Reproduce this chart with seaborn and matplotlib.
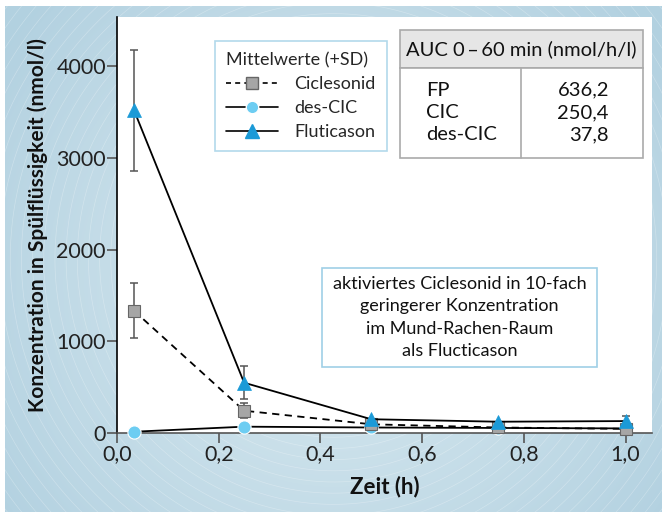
import numpy as np
import pandas as pd
import matplotlib
matplotlib.use("Agg")
import matplotlib.pyplot as plt
import seaborn as sns
from matplotlib.lines import Line2D
from matplotlib.patches import Rectangle
from matplotlib.ticker import FuncFormatter

# ---------------- data ----------------
time_h = [2 / 60, 0.25, 0.5, 0.75, 1.0]
ciclesonid = [1333, 243, 95, 60, 45]
ciclesonid_sd = [300, 82, 0, 0, 0]
des_cic = [14, 69, 60, 55, 50]
fluticason = [3520, 548, 150, 123, 130]
fluticason_sd = [660, 180, 0, 0, 55]

series_names = ["Ciclesonid", "des-CIC", "Fluticason"]
legend_title = "Mittelwerte (+SD)"
x_ticks = [0.0, 0.2, 0.4, 0.6, 0.8, 1.0]
y_ticks = [0, 1000, 2000, 3000, 4000]

auc_header = "AUC 0\u2009–\u200960 min (nmol/h/l)"
auc_labels = ["FP", "CIC", "des-CIC"]
auc_values = ["636,2", "250,4", "37,8"]

note_lines = ["aktiviertes Ciclesonid in 10-fach",
              "geringerer Konzentration",
              "im Mund-Rachen-Raum",
              "als Flucticason"]

# ---------------- style ----------------
sns.set_theme(style="white")
FONT = ["Lato", "DejaVu Sans"]
plt.rcParams["font.family"] = FONT

W, H = 662, 512
fig = plt.figure(figsize=(W / 100, H / 100), dpi=100, facecolor="white")


def fx(x):
    return x / W


def fy(y):
    return 1 - y / H


# background panel with radial gradient and faint arcs
bg = fig.add_axes([fx(5), 0, 1 - fx(5), fy(6)], zorder=0)
gx = np.linspace(0, 1, 300)
gy = np.linspace(0, 1, 300)
GX, GY = np.meshgrid(gx, gy)
r = np.sqrt(((GX - 0.5) * 1.0) ** 2 + ((GY - 0.45) * 0.77) ** 2)
c_center = np.array([0.835, 0.905, 0.935])
c_edge = np.array([0.70, 0.82, 0.88])
t = np.clip(r / 0.62, 0, 1)[..., None] ** 1.3
img = c_center * (1 - t) + c_edge * t
bg.imshow(img, extent=[0, 1, 0, 1], origin="lower", aspect="auto")
theta = np.linspace(0, 2 * np.pi, 500)
for rad in np.arange(0.05, 1.6, 0.017):
    bg.plot(0.5 + rad * np.cos(theta), 0.5 + rad * np.sin(theta) * 1.3,
            color="white", lw=0.5, alpha=0.28)
bg.set_xlim(0, 1)
bg.set_ylim(0, 1)
bg.axis("off")

# main axes
ax = fig.add_axes([fx(117), 1 - 433 / H, fx(652) - fx(117), (433 - 17) / H], zorder=2)
ax.set_facecolor("white")

c_cic = "#a6a6a6"
c_des = "#6dcdf2"
c_flu = "#1b9ad7"

df = pd.DataFrame({
    "Zeit": time_h * 3,
    "Konz": ciclesonid + des_cic + fluticason,
    "Serie": [series_names[0]] * 5 + [series_names[1]] * 5 + [series_names[2]] * 5,
})

# error bars
ax.errorbar(time_h, ciclesonid, yerr=ciclesonid_sd, fmt="none", ecolor="#555555",
            elinewidth=1.1, capsize=3.2, capthick=1.1, zorder=3)
ax.errorbar(time_h, fluticason, yerr=fluticason_sd, fmt="none", ecolor="#555555",
            elinewidth=1.1, capsize=3.2, capthick=1.1, zorder=3)

sns.lineplot(data=df[df.Serie == series_names[1]], x="Zeit", y="Konz", ax=ax,
             color="black", lw=1.3, marker="o", markersize=9.5,
             markerfacecolor=c_des, markeredgecolor="white", markeredgewidth=0.8,
             zorder=4, clip_on=False, legend=False)
sns.lineplot(data=df[df.Serie == series_names[0]], x="Zeit", y="Konz", ax=ax,
             color="black", lw=1.3, linestyle=(0, (4, 3)), marker="s", markersize=8.5,
             markerfacecolor=c_cic, markeredgecolor="#666666", markeredgewidth=0.8,
             zorder=5, clip_on=False, legend=False)
sns.lineplot(data=df[df.Serie == series_names[2]], x="Zeit", y="Konz", ax=ax,
             color="black", lw=1.3, marker="^", markersize=10.5,
             markerfacecolor=c_flu, markeredgecolor=c_flu, markeredgewidth=0.5,
             zorder=6, clip_on=False, legend=False)

ax.set_xlim(0, 1.052)
ax.set_ylim(0, 4535)
ax.set_xticks(x_ticks)
ax.set_yticks(y_ticks)
ax.xaxis.set_major_formatter(FuncFormatter(lambda v, p: f"{v:.1f}".replace(".", ",")))
ax.yaxis.set_major_formatter(FuncFormatter(lambda v, p: f"{int(v)}"))
ax.tick_params(axis="both", which="major", direction="out", length=7, width=1.2,
               color="#555555", labelsize=15.5, labelcolor="#222222", pad=1,
               left=True, bottom=True)
for s in ["top", "right"]:
    ax.spines[s].set_visible(False)
ax.spines["left"].set_color("black")
ax.spines["left"].set_linewidth(1.2)
ax.spines["bottom"].set_color("#555555")
ax.spines["bottom"].set_linewidth(1.2)
ax.set_xlabel("Zeit (h)", fontsize=16, fontweight="bold", labelpad=8, color="#111111")
ax.set_ylabel("Konzentration in Spülflüssigkeit (nmol/l)", fontsize=15,
              fontweight="bold", labelpad=6, color="#111111")

# legend
handles = [
    Line2D([], [], color="black", lw=1.2, linestyle=(0, (3, 2.5)), marker="s",
           markersize=8, markerfacecolor=c_cic, markeredgecolor="#666666"),
    Line2D([], [], color="black", lw=1.2, marker="o", markersize=9,
           markerfacecolor=c_des, markeredgecolor="white"),
    Line2D([], [], color="black", lw=1.2, marker="^", markersize=10,
           markerfacecolor=c_flu, markeredgecolor=c_flu),
]
leg = ax.legend(handles, series_names, title=legend_title, loc="upper left",
                bbox_to_anchor=((215 - 117) / 535, (433 - 41) / 416),
                borderaxespad=0, frameon=True, fancybox=False, fontsize=13,
                title_fontsize=13, handlelength=2.9, handletextpad=0.9,
                labelspacing=0.45, borderpad=0.6)
leg.get_frame().set_edgecolor("#9fd0e6")
leg.get_frame().set_linewidth(1.2)
leg._legend_box.align = "left"

# AUC table
tx0, tx1, ty0, tyh, ty1, tdiv = 400, 643, 30, 68, 158, 521
fig.add_artist(Rectangle((fx(tx0), fy(tyh)), fx(tx1) - fx(tx0), fy(ty0) - fy(tyh),
                         transform=fig.transFigure, facecolor="#e6e6e6",
                         edgecolor="#aaaaaa", lw=1.2, zorder=10))
fig.add_artist(Rectangle((fx(tx0), fy(ty1)), fx(tx1) - fx(tx0), fy(tyh) - fy(ty1),
                         transform=fig.transFigure, facecolor="white",
                         edgecolor="#aaaaaa", lw=1.2, zorder=10))
fig.add_artist(Line2D([fx(tdiv), fx(tdiv)], [fy(tyh), fy(ty1)], transform=fig.transFigure,
                      color="#aaaaaa", lw=1.2, zorder=11))
fig.text(fx((tx0 + tx1) / 2), fy(49), auc_header, ha="center", va="center",
         fontsize=14.5, color="#111111", zorder=12)
for i, (lab, val) in enumerate(zip(auc_labels, auc_values)):
    yy = 90 + i * 22.5
    fig.text(fx(426), fy(yy), lab, ha="left", va="center", fontsize=14.5,
             color="#111111", zorder=12)
    fig.text(fx(609), fy(yy), val, ha="right", va="center", fontsize=14.5,
             color="#111111", zorder=12)

# annotation box
bx0, bx1, by0, by1 = 322, 597, 268, 367
fig.add_artist(Rectangle((fx(bx0), fy(by1)), fx(bx1) - fx(bx0), fy(by0) - fy(by1),
                         transform=fig.transFigure, facecolor="white",
                         edgecolor="#9fd0e6", lw=1.2, zorder=10))
for i, line in enumerate(note_lines):
    fig.text(fx((bx0 + bx1) / 2), fy(284 + i * 22.5), line, ha="center", va="center",
             fontsize=13, color="#111111", zorder=12)

fig.savefig("out.png", dpi=100, facecolor="white")
